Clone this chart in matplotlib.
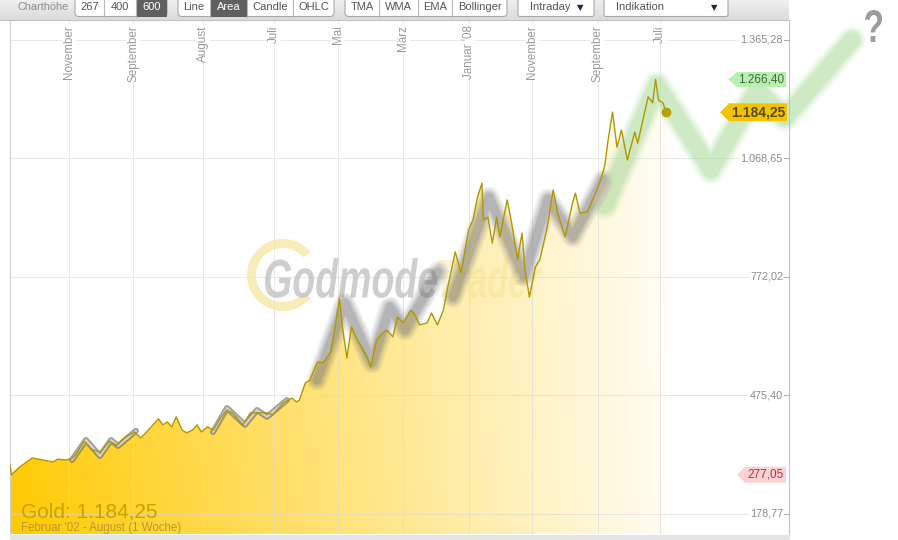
import numpy as np
import matplotlib
matplotlib.use("Agg")
import matplotlib.pyplot as plt
from matplotlib.patches import Polygon, Rectangle, FancyBboxPatch, Wedge, PathPatch
from matplotlib.textpath import TextPath
from matplotlib.font_manager import FontProperties
from matplotlib.transforms import Affine2D, blended_transform_factory

plt.rcParams['font.family'] = ['Liberation Sans', 'DejaVu Sans']

# ---------------- data (week index since Feb 2002, gold price) ----------------
weeks = [0, 1, 6, 15, 22, 29, 32, 38, 42, 44, 50, 55, 61, 67, 72, 78, 84, 88, 92,
         100, 103, 106, 109, 112, 116, 119, 123, 126, 129, 133, 137, 141, 146, 150,
         157, 162, 166, 173, 177, 184, 190, 193, 195, 199, 202, 207, 211, 216, 219,
         222, 224, 227, 230, 234, 237, 241, 243, 247, 251, 254, 258, 261, 265, 270,
         273, 276, 281, 284, 288, 292, 295, 300, 304, 309, 312, 315, 318, 319, 322,
         325, 328, 330, 335, 338, 342, 345, 347, 350, 354, 357, 362, 366, 369, 374,
         379, 381, 384, 389, 394, 398, 400, 401, 403, 406, 409, 412, 416, 421, 423,
         426, 430, 433, 435, 437, 440, 442]
prices = [301, 277.05, 295, 319, 314, 309, 316, 314, 319, 326, 361, 340, 334, 361, 351, 372, 384, 369, 384,
          417, 402, 409, 397, 422, 389, 382, 389, 402, 384, 397, 389, 414, 439, 432,
          402, 432, 432, 432, 427, 457, 469, 459, 464, 507, 514, 559, 557, 584, 647,
          719, 647, 569, 647, 614, 597, 569, 547, 614, 632, 639, 622, 672, 657, 689,
          677, 652, 657, 682, 652, 689, 747, 835, 782, 890, 915, 972, 1007, 915, 922,
          857, 922, 872, 965, 907, 815, 882, 790, 722, 797, 815, 897, 990, 932, 872,
          957, 982, 932, 935, 977, 1015, 1040, 1057, 1115, 1185, 1097, 1140, 1065, 1135, 1107,
          1158, 1223, 1208, 1266.40, 1215, 1208, 1184.25]

month_weeks = [40, 83, 130, 178, 221, 265, 309, 352, 396, 438]
month_labels = ["November", "September", "August", "Juli", "Mai", "März",
                "Januar '08", "November", "September", "Juli"]
ytick_values = [178.77, 475.40, 772.02, 1068.65, 1365.28]

grey1_w = [41.8, 51.2, 60.6, 68.1, 72.8, 84.9]
grey1_p = [314, 364, 324, 364, 349, 387]
grey2_w = [136.8, 146.2, 158.3, 166.4, 173.2, 186.6]
grey2_p = [384, 444, 402, 439, 422, 464]
grey3_w = [206.8, 225.7, 243.9, 256.0, 266.1, 288.4]
grey3_p = [514, 707, 557, 697, 639, 785]
grey4_w = [298.5, 322.7, 346.3, 362.5, 379.3, 399.5]
grey4_p = [722, 972, 774, 967, 872, 1015]
pink_w = [396.2, 401.6]
pink_p = [964, 1002]
green_w = [400.9, 435.9, 472.3, 503.3, 522.2, 567.3]
green_p = [952, 1253, 1040, 1240, 1170, 1365]

last_price = 1184.25
high_price = 1266.40
low_price = 277.05

toolbar_groups = [["267", "400", "600"], ["Line", "Area", "Candle", "OHLC"],
                  ["TMA", "WMA", "EMA", "Bollinger"]]
selected = ["600", "Area"]
dropdowns = ["Intraday", "Indikation"]
title_text = "Gold: 1.184,25"
subtitle_text = "Februar '02 - August (1 Woche)"


def de_fmt(v):
    s = f"{v:,.2f}"
    return s.replace(",", "X").replace(".", ",").replace("X", ".")


# ---------------- figure ----------------
W, H = 898, 540
fig = plt.figure(figsize=(W / 100, H / 100), dpi=100, facecolor='white')
ax = fig.add_axes([10 / W, (H - 534) / H, 779 / W, 514 / H])
ov = fig.add_axes([0, 0, 1, 1], zorder=10)
ov.set_xlim(0, W)
ov.set_ylim(0, H)
ov.axis('off')
ov.patch.set_alpha(0)

XMIN, XMAX = 0, 524.9
YMIN, YMAX = 128.7, 1415.3

# gradient area fill
nx, ny = 500, 260
gx = np.linspace(XMIN, XMAX, nx)
gy = np.linspace(YMIN, YMAX, ny)
xf = np.clip(gx / weeks[-1], 0, 1)
yb = 1 - (gy - YMIN) / (YMAX - YMIN)
t = np.clip(1 - 0.95 * xf, 0, 1)[None, :] * (0.8 + 0.2 * yb[:, None])
gold = np.array([1.0, 0.79, 0.0])
img = 1 - t[..., None] * (1 - gold)[None, None, :]
im = ax.imshow(img, extent=[XMIN, XMAX, YMIN, YMAX], origin='lower',
               aspect='auto', zorder=1, interpolation='bilinear')
verts = np.column_stack([np.r_[weeks, weeks[-1], weeks[0]],
                         np.r_[prices, YMIN, YMIN]])
clip = Polygon(verts, closed=True, transform=ax.transData, fc='none', ec='none')
ax.add_patch(clip)
im.set_clip_path(clip)

ax.set_xlim(XMIN, XMAX)
ax.set_ylim(YMIN, YMAX)
ax.set_xticks([])
ax.set_yticks([])
for s in ['top', 'bottom']:
    ax.spines[s].set_visible(False)
ax.spines['left'].set_color('#cfcfcf')
ax.spines['right'].set_color('#c4c4c4')
ax.spines['left'].set_linewidth(0.8)
ax.spines['right'].set_linewidth(0.8)

# grid
for mw in month_weeks:
    ax.axvline(mw, color='#d8d8d8', lw=0.7, alpha=0.6, zorder=1.5)
for v in ytick_values:
    ax.axhline(v, color='#d8d8d8', lw=0.7, alpha=0.6, zorder=1.5)

bt_y = blended_transform_factory(ax.transAxes, ax.transData)
bt_x = blended_transform_factory(ax.transData, ax.transAxes)
for v in ytick_values:
    ax.text(0.9923, v, de_fmt(v), transform=bt_y, ha='right', va='center',
            fontsize=7.8, color='#8a8a8a', zorder=3,
            bbox=dict(facecolor='white', edgecolor='none', pad=0.8))
    ax.plot([0.9935, 1.0], [v, v], transform=bt_y, color='#b0b0b0', lw=0.8,
            zorder=3, clip_on=False)
for mw, lab in zip(month_weeks, month_labels):
    ax.text(mw, 0.990, lab, transform=bt_x, rotation=90, ha='center', va='top',
            fontsize=8.4, color='#9a9a9a', zorder=3,
            bbox=dict(facecolor='white', edgecolor='none', pad=0.6))


# watermark (pixel coordinates via overlay transform)
def text_patch(target, s, x0, ytop, w, h, color, alpha, weight, style, zorder):
    fp = FontProperties(family='Liberation Sans', weight=weight, style=style)
    tp = TextPath((0, 0), s, size=100, prop=fp)
    bb = tp.get_extents()
    tr = (Affine2D().translate(-bb.x0, -bb.y0)
          .scale(w / bb.width, h / bb.height)
          .translate(x0, H - ytop - h))
    path = tr.transform_path(tp)
    patch = PathPatch(path, fc=color, ec='none', alpha=alpha,
                      transform=ov.transData, zorder=zorder)
    target.add_patch(patch)
    return patch


ring = Wedge((283, H - 275), 36, 40, 320, width=9, fc='#f6e6a2', ec='none',
             alpha=0.75, transform=ov.transData, zorder=2)
ax.add_patch(ring)
text_patch(ax, "Godmode", 265, 258, 172, 40, '#c2c2c2', 0.8, 'bold', 'italic', 2.2)
text_patch(ax, "Trader", 437, 258, 105, 40, '#f3d870', 0.3, 'bold', 'italic', 2.2)

# grey zig-zag bands
for gw, gp in [(grey3_w, grey3_p), (grey4_w, grey4_p)]:
    for wpx, a in [(21, 0.10), (17, 0.14), (13, 0.18), (9, 0.24)]:
        ax.plot(gw, gp, color='#747474', lw=wpx * 0.72, alpha=a,
                solid_capstyle='round', solid_joinstyle='round', zorder=4)
for gw, gp in [(grey1_w, grey1_p), (grey2_w, grey2_p)]:
    ax.plot(gw, gp, color='#707070', lw=6 * 0.72, alpha=0.65,
            solid_capstyle='round', solid_joinstyle='round', zorder=4)
    ax.plot(gw, gp, color='#e4e4e4', lw=2 * 0.72, alpha=0.8,
            solid_capstyle='round', solid_joinstyle='round', zorder=4.1)

# green projection band
for wpx, a in [(28, 0.10), (24, 0.14), (20, 0.18), (16, 0.22)]:
    ax.plot(green_w, green_p, color='#a0d890', lw=wpx * 0.72, alpha=a,
            solid_capstyle='round', solid_joinstyle='round', zorder=4,
            clip_on=False)
ax.plot(pink_w, pink_p, color='#e6a8c8', lw=12 * 0.72, alpha=0.3,
        solid_capstyle='round', zorder=4.2)

# price line
ax.plot(weeks, prices, color='#b09800', lw=1.0, zorder=6)
ax.plot(weeks[-1], prices[-1], 'o', ms=6, color='#b8a000', zorder=7)


# price tags
def price_tag(value, text, face, tcolor, tip, left, right, h, fs, weight):
    y = ax.transData.transform((0, value))[1]
    y = fig.transFigure.inverted().transform((0, y))[1] * H
    poly = Polygon([(tip, y), (left, y + h / 2), (right, y + h / 2),
                    (right, y - h / 2), (left, y - h / 2)], closed=True,
                   fc=face, ec='none', zorder=5)
    ov.add_patch(poly)
    ov.text(right - 2, y, text, ha='right', va='center', fontsize=fs,
            color=tcolor, fontweight=weight, zorder=6)


price_tag(high_price, de_fmt(high_price), '#b9f0b0', '#3d6b3d', 728, 737, 786, 15, 8.5, 'normal')
price_tag(last_price, de_fmt(last_price), '#f2c400', '#5a4a00', 720, 729, 787, 18, 10, 'bold')
price_tag(low_price, de_fmt(low_price), '#fcd2d4', '#b03040', 737, 745, 786, 16, 8.5, 'normal')

# question mark
text_patch(ov, "?", 865, 10, 17, 32, '#9c9c9c', 1.0, 'bold', 'normal', 5)

# bottom texts
ov.text(21, H - 517.5, title_text, fontsize=15, color='#c4a300', va='baseline', ha='left')
ov.text(21, H - 531, subtitle_text, fontsize=8.3, color='#b8982a', va='baseline', ha='left')

# bottom bar
ov.add_patch(Rectangle((10, 0), 780, H - 535, fc='#e4e4e4', ec='none'))

# toolbar
tb = np.linspace(0, 1, 40)[:, None]
tb_img = np.dstack([0.94 - 0.08 * tb, 0.94 - 0.08 * tb, 0.94 - 0.08 * tb])
ov.imshow(tb_img, extent=[0, 789, H - 20, H], origin='upper', aspect='auto', zorder=1)
ov.plot([0, 789], [H - 20, H - 20], color='#c2c2c2', lw=0.8, zorder=1.5)
ov.set_xlim(0, W)
ov.set_ylim(0, H)

ov.text(18, H - 7.5, "Charthöhe", fontsize=7.8, color='#8c8c8c', va='center', ha='left', zorder=3)

btn_bottom = H - 16.5
for labels, bounds in zip(toolbar_groups, [[75, 104, 136, 167], [178, 210, 247, 293, 334],
                                           [345, 379, 418, 452, 507]]):
    x0, x1 = bounds[0], bounds[-1]
    ov.add_patch(FancyBboxPatch((x0, btn_bottom), x1 - x0, 30,
                                boxstyle='round,pad=0,rounding_size=4',
                                fc='white', ec='#a8a8a8', lw=0.8, zorder=2))
    for i, lab in enumerate(labels):
        bx0, bx1 = bounds[i], bounds[i + 1]
        if lab in selected:
            ov.add_patch(Rectangle((bx0, btn_bottom), bx1 - bx0, 17, fc='#606060',
                                   ec='none', zorder=2.5))
            col = 'white'
        else:
            col = '#555555'
        if 0 < i:
            ov.plot([bx0, bx0], [btn_bottom, H], color='#b8b8b8', lw=0.8, zorder=2.6)
        ov.text((bx0 + bx1) / 2, H - 7.5, lab, fontsize=8, color=col,
                ha='center', va='center', zorder=3)

for lab, (x0, x1) in zip(dropdowns, [(518, 594), (604, 728)]):
    ov.add_patch(FancyBboxPatch((x0, btn_bottom), x1 - x0, 30,
                                boxstyle='round,pad=0,rounding_size=2',
                                fc='white', ec='#a8a8a8', lw=0.8, zorder=2))
    ov.text(x0 + 12, H - 7.5, lab, fontsize=8, color='#555555', ha='left',
            va='center', zorder=3)
    ov.text(x1 - 14, H - 7.5, "▼", fontsize=6, color='#222244', ha='center',
            va='center', zorder=3, family='DejaVu Sans')

fig.savefig("out.png", dpi=100, facecolor='white')
